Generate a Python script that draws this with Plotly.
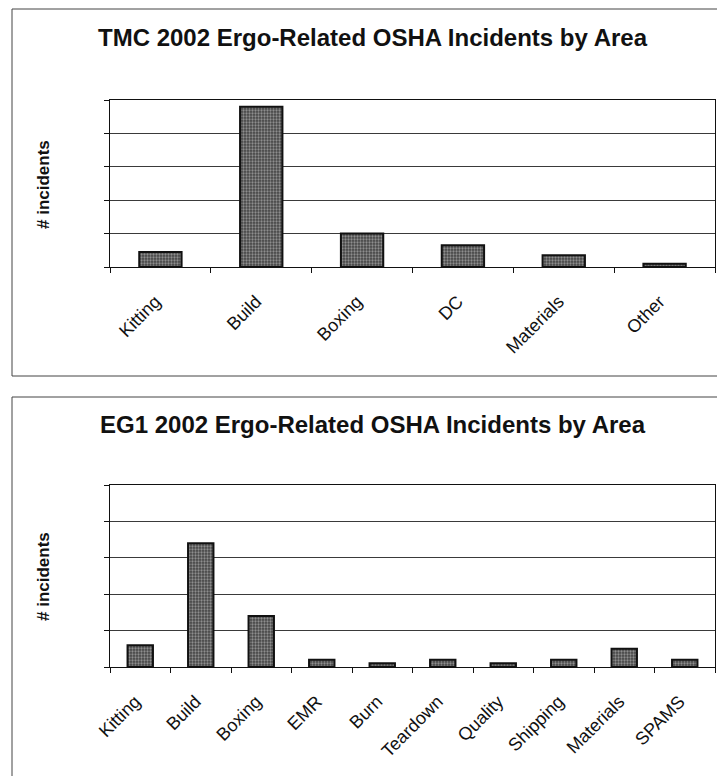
import plotly.graph_objects as go

# ---- data -------------------------------------------------------------
tmc_areas = ["Kitting", "Build", "Boxing", "DC", "Materials", "Other"]
tmc_incidents = [9, 96, 20, 13, 7, 2]

eg1_areas = ["Kitting", "Build", "Boxing", "EMR", "Burn", "Teardown",
             "Quality", "Shipping", "Materials", "SPAMS"]
eg1_incidents = [6, 34, 14, 2, 1, 2, 1, 2, 5, 2]

tmc_title = "TMC 2002 Ergo-Related OSHA Incidents by Area"
eg1_title = "EG1 2002 Ergo-Related OSHA Incidents by Area"
y_label = "# incidents"

# ---- page geometry (pixels) ----------------------------------------
W, H = 717, 776
FONT = "Liberation Sans, Arial, sans-serif"


def px_x(x):
    return x / W


def px_y(y):
    return 1 - y / H


bar_marker = dict(
    color="#555555",
    line=dict(color="#111111", width=2),
    pattern=dict(shape=".", bgcolor="#454545", fgcolor="#8e8e8e",
                 size=3, solidity=0.45, fillmode="replace"),
)

fig = go.Figure()
fig.add_trace(go.Bar(x=tmc_areas, y=tmc_incidents, marker=bar_marker,
                     xaxis="x", yaxis="y", showlegend=False))
fig.add_trace(go.Bar(x=eg1_areas, y=eg1_incidents, marker=bar_marker,
                     xaxis="x2", yaxis="y2", showlegend=False))

xaxis_style = dict(
    type="category", tickson="boundaries", ticks="outside", ticklen=5,
    tickcolor="#111111", tickwidth=1, showline=True, linecolor="#111111",
    linewidth=1, mirror=True, showgrid=False, tickangle=-45,
    tickfont=dict(family=FONT, size=18, color="#111111"),
    ticklabelstandoff=16, ticklabelshift=-5,
    domain=[px_x(110), px_x(715)], automargin=False,
)
yaxis_style = dict(
    showticklabels=False, ticks="outside", ticklen=5, tickcolor="#111111",
    showline=True, linecolor="#111111", linewidth=1, mirror=True,
    showgrid=True, gridcolor="#3a3a3a", gridwidth=1, zeroline=False,
    automargin=False,
)

fig.update_layout(
    width=W, height=H,
    margin=dict(l=0, r=0, t=0, b=0),
    paper_bgcolor="white", plot_bgcolor="white",
    bargap=0.58,
    xaxis=dict(xaxis_style, anchor="y"),
    yaxis=dict(yaxis_style, anchor="x", range=[0, 100], dtick=20,
               domain=[px_y(267), px_y(100)]),
    xaxis2=dict(xaxis_style, anchor="y2"),
    yaxis2=dict(yaxis_style, anchor="x2", range=[0, 50], dtick=10,
                domain=[px_y(667), px_y(485)]),
    font=dict(family=FONT, color="#111111"),
)

# panel frames
fig.add_shape(type="rect", xref="paper", yref="paper",
              x0=px_x(12), x1=1.05, y0=px_y(376), y1=px_y(9),
              line=dict(color="#444444", width=1), layer="below")
fig.add_shape(type="rect", xref="paper", yref="paper",
              x0=px_x(12), x1=1.05, y0=-0.05, y1=px_y(397),
              line=dict(color="#444444", width=1), layer="below")

# titles
for text, yc in [(tmc_title, 37.5), (eg1_title, 424.5)]:
    fig.add_annotation(text=f"<b>{text}</b>", xref="paper", yref="paper",
                       x=px_x(372.5), y=px_y(yc), xanchor="center",
                       yanchor="middle", showarrow=False,
                       font=dict(family=FONT, size=24, color="#111111"))

# y-axis labels
for yc in [185, 577]:
    fig.add_annotation(text=f"<b>{y_label}</b>", xref="paper", yref="paper",
                       x=px_x(43), y=px_y(yc), xanchor="center",
                       yanchor="middle", textangle=-90, showarrow=False,
                       font=dict(family=FONT, size=17, color="#111111"))

fig.write_html("out.html")
